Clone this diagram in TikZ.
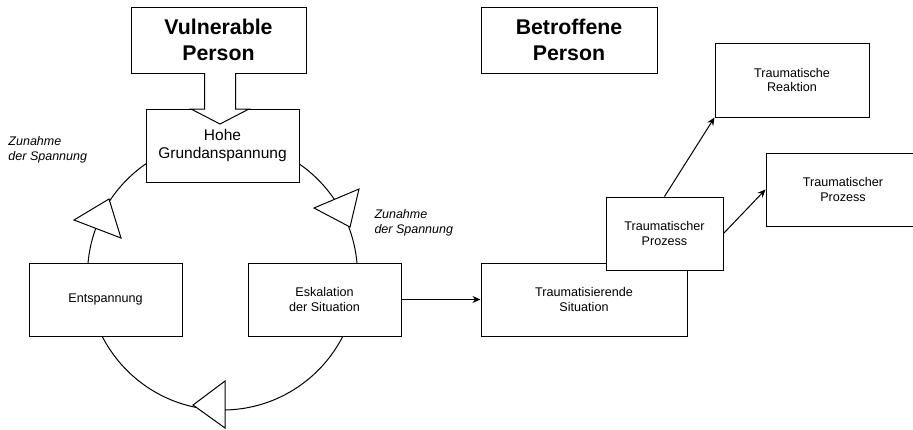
\documentclass[tikz,border=0pt]{standalone}
\usepackage{fontspec}
\setmainfont{Liberation Sans}
\usetikzlibrary{arrows.meta,calc}

\begin{document}
\begin{tikzpicture}[x=1pt, y=-1pt, line width=1pt, >={Stealth[length=8pt,width=7pt]},
    box/.style={draw, fill=white, inner sep=0pt, align=center, font=\fontsize{12.6}{14.8}\selectfont},
    titlebox/.style={box, font=\bfseries\fontsize{21.3}{26}\selectfont},
    note/.style={anchor=north west, align=left, inner sep=0pt, font=\itshape\fontsize{12.5}{14.8}\selectfont}]
  \clip (0,0) rectangle (913,429);
  % ---------------------------------------------------------------- cycle
  \draw (222.5,275) circle[radius=135];
  \foreach \a/\b/\c in {{(74,220)}/{(121,238)}/{(109,199)}, {(314,208)}/{(359,189)}/{(350,227)},
                        {(225,381)}/{(225,428)}/{(193,405)}} {
    \draw[fill=white, line join=miter] \a -- \b -- \c -- cycle;
  }
  \node[note] (zl) at (8,136) {Zunahme\\der Spannung};
  \node[note] (zr) at (374,209) {Zunahme\\der Spannung};
  % ---------------------------------------------------------------- vulnerable person
  \node[titlebox, minimum width=175pt, minimum height=66pt] (vp) at (218.5,40) {Vulnerable\\Person};
  \node[box, minimum width=153pt, minimum height=73pt, font=\fontsize{15.5}{18}\selectfont] (hohe) at (222.5,145.5) {Hohe\\Grundanspannung};
  \node[box, minimum width=153pt, minimum height=73pt] (ent) at (105.5,299.5) {Entspannung};
  \node[box, minimum width=153pt, minimum height=73pt] (esk) at (324.5,299.5) {Eskalation\\der Situation};
  % block arrow into Hohe Grundanspannung
  \draw[fill=white, line join=miter] (204.5,73) -- (204.5,109) -- (191,109) -- (220,124) -- (249,109) -- (235.5,109) -- (235.5,73);
  % ---------------------------------------------------------------- affected person
  \node[titlebox, minimum width=176pt, minimum height=66pt] (bp) at (569,40) {Betroffene\\Person};
  \node[box, minimum width=206pt, minimum height=73pt] (tsit) at (584,299.5) {Traumatisierende\\Situation};
  \node[box, minimum width=117pt, minimum height=73pt] (tproz) at (664.5,233.5) {Traumatischer\\Prozess};
  \node[box, minimum width=154pt, minimum height=74pt] (treak) at (792,80) {Traumatische\\Reaktion};
  \node[box, minimum width=154pt, minimum height=73pt] (tproz2) at (843,189.5) {Traumatischer\\Prozess};
  \draw[->] (esk.east) -- (tsit.west);
  \draw[->] (tproz.north) -- (treak.south west);
  \draw[->] (tproz.east) -- (tproz2.west);
\end{tikzpicture}
\end{document}
